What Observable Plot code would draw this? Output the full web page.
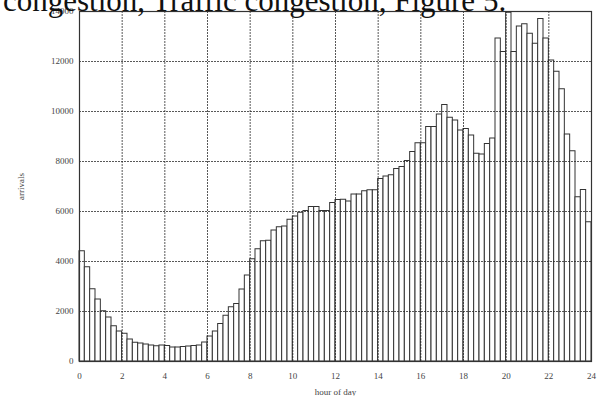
<!DOCTYPE html>
<html>
<head>
<meta charset="utf-8">
<script src="https://cdn.jsdelivr.net/npm/d3@7"></script>
<script src="https://cdn.jsdelivr.net/npm/@observablehq/plot@0.6"></script>
<style>
  html, body { margin: 0; padding: 0; background: #fff; }
  #wrap { position: relative; width: 600px; height: 396px; overflow: hidden; }
  #caption { position: absolute; left: 3px; top: -15px; font-family: "Liberation Serif", "Times New Roman", serif; font-size: 31px; line-height: 31px; color: #111; white-space: nowrap; z-index: 2; }
  #chart { position: absolute; left: 0; top: 0; }
</style>
</head>
<body>
<div id="wrap">
  <div id="chart"></div>
  <div id="caption">congestion, Traffic congestion, Figure 5.</div>
</div>
<script>
// arrivals per 15-minute bin, 96 bins covering 0–24 h
const binWidth = 0.25;
const arrivals = [
  4410, 3770, 2890, 2480, 2010, 1760, 1410, 1200,
  1110, 880, 750, 720, 680, 640, 610, 640,
  620, 560, 560, 580, 600, 620, 640, 760,
  1000, 1200, 1500, 1830, 2170, 2300, 2880, 3440,
  4090, 4490, 4810, 4830, 5240, 5370, 5400, 5670,
  5800, 5950, 6020, 6180, 6180, 6020, 6020, 6340,
  6460, 6470, 6400, 6680, 6680, 6810, 6850, 6850,
  7300, 7400, 7450, 7700, 7780, 8020, 8380, 8730,
  8730, 9380, 9380, 9880, 10260, 9750, 9640, 9240,
  9300, 9040, 8310, 8280, 8700, 8920, 12920, 12380,
  13950, 12380, 13400, 13490, 13110, 12710, 13700, 12920,
  12040, 11590, 10890, 9080, 8410, 6570, 6860, 5570
];
const xTicks = [0, 2, 4, 6, 8, 10, 12, 14, 16, 18, 20, 22, 24];
const yTicks = [0, 2000, 4000, 6000, 8000, 10000, 12000, 14000];
const xLabel = "hour of day";
const yLabel = "arrivals";

const bins = arrivals.map((v, i) => ({start: i * binWidth, end: (i + 1) * binWidth, value: v}));

const chart = Plot.plot({
  width: 600,
  height: 396,
  marginLeft: 79,
  marginRight: 9,
  marginTop: 11,
  marginBottom: 35,
  style: {fontFamily: "'Liberation Serif', 'Times New Roman', serif", fontSize: "9px", color: "#444", background: "white"},
  x: {domain: [0, 24], ticks: xTicks, tickSize: 0, tickPadding: 11, tickFormat: d => String(d), label: xLabel, labelAnchor: "center", labelArrow: "none", labelOffset: 33},
  y: {domain: [0, 14000], ticks: yTicks, tickSize: 0, tickPadding: 6, tickFormat: d => String(d), label: yLabel, labelAnchor: "center", labelArrow: "none", labelOffset: 62},
  marks: [
    Plot.rect(bins, {x1: "start", x2: "end", y1: 0, y2: "value", fill: "white", stroke: "#333", strokeWidth: 1}),
    Plot.ruleX(xTicks.slice(1, -1), {stroke: "#222", strokeOpacity: 0.75, strokeDasharray: "2,1"}),
    Plot.ruleY(yTicks.slice(1, -1), {stroke: "#222", strokeOpacity: 0.75, strokeDasharray: "2,1"}),
    Plot.frame({stroke: "#333", strokeWidth: 1.2})
  ]
});
document.getElementById("chart").appendChild(chart);
</script>
</body>
</html>
